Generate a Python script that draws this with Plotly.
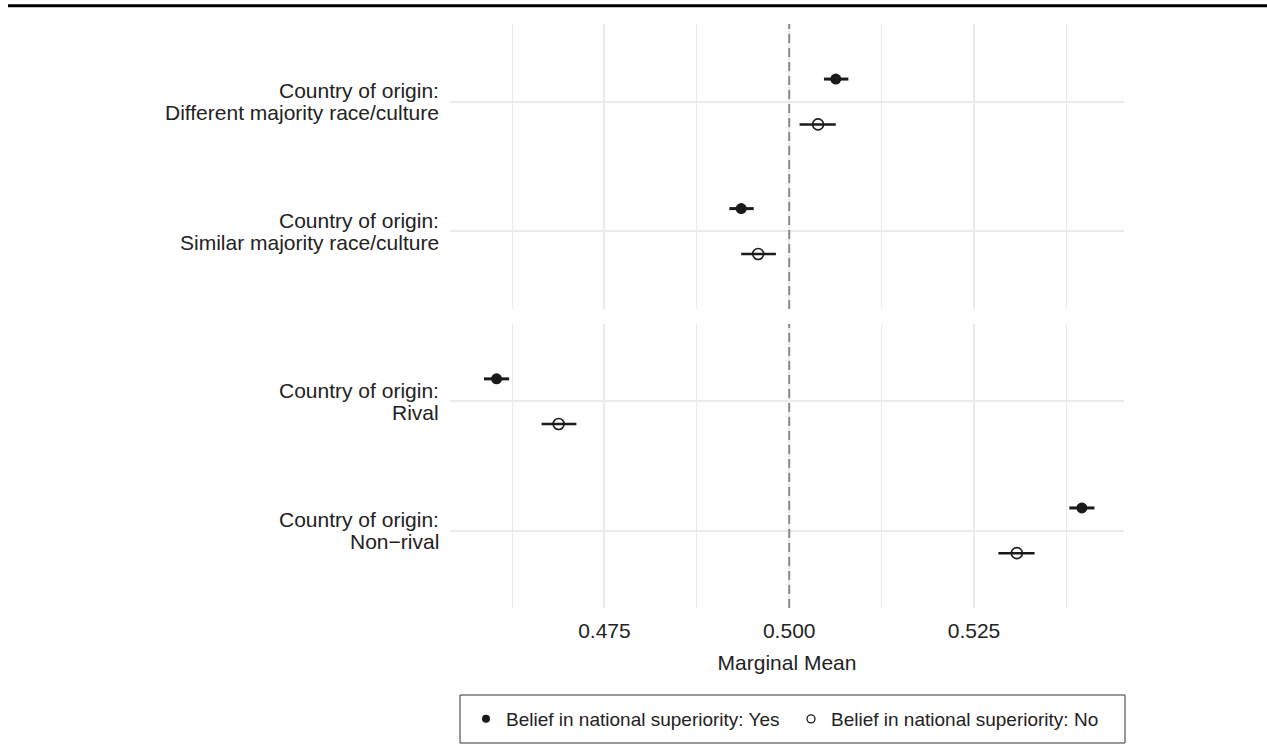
import plotly.graph_objects as go

# ---------------- data ----------------
label_prefix = "Country of origin:"
categories = ["Different majority race/culture", "Similar majority race/culture",
              "Rival", "Non\u2212rival"]
panel = [1, 1, 2, 2]          # facet panel of each category
slot = [0, 1, 0, 1]           # position of category inside its panel (top first)

yes_mean = [0.5063, 0.4935, 0.4604, 0.5396]
yes_lo = [0.5047, 0.4919, 0.4587, 0.5379]
yes_hi = [0.5080, 0.4952, 0.4621, 0.5413]

no_mean = [0.5039, 0.4958, 0.4688, 0.5308]
no_lo = [0.5014, 0.4935, 0.4665, 0.5283]
no_hi = [0.5063, 0.4982, 0.4712, 0.5332]

groups = ["Belief in national superiority: Yes", "Belief in national superiority: No"]
x_ticks = [0.475, 0.500, 0.525]
x_ticktext = ["0.475", "0.500", "0.525"]
x_minor = [0.4625, 0.4875, 0.5125, 0.5375]
reference_value = 0.5
x_title = "Marginal Mean"

# ---------------- styling ----------------
FONT = "Liberation Sans, Arial, Helvetica, sans-serif"
TXT = "#222222"
GRID = "#EBEBEB"
INK = "#1a1a1a"
dodge = 0.175
L, R, T, B = 450, 143, 24, 146
PW, PH = 1267 - L - R, 754 - T - B


def px_x(px):
    return (px - L) / PW


def px_y(py):
    return (754 - B - py) / PH


fig = go.Figure()

series = [
    (groups[0], yes_mean, yes_lo, yes_hi, -dodge,
     dict(symbol="circle", size=11, color=INK), 3),
    (groups[1], no_mean, no_lo, no_hi, dodge,
     dict(symbol="circle-open", size=11, color=INK, line=dict(width=1.6, color=INK)), 2.5),
]

for name, mean, lo, hi, off, marker, thick in series:
    for p in (1, 2):
        idx = [i for i in range(len(categories)) if panel[i] == p]
        fig.add_trace(go.Scatter(
            x=[mean[i] for i in idx],
            y=[slot[i] + off for i in idx],
            mode="markers",
            marker=marker,
            error_x=dict(type="data", symmetric=False,
                         array=[hi[i] - mean[i] for i in idx],
                         arrayminus=[mean[i] - lo[i] for i in idx],
                         width=0, thickness=thick, color=INK),
            xaxis="x" if p == 1 else "x2",
            yaxis="y" if p == 1 else "y2",
            showlegend=False,
            hoverinfo="x+y",
            name=name,
        ))

# legend entries (small markers like the reference key)
fig.add_trace(go.Scatter(x=[None], y=[None], mode="markers", name=groups[0],
                         xaxis="x2", yaxis="y2",
                         marker=dict(symbol="circle", size=8, color=INK)))
fig.add_trace(go.Scatter(x=[None], y=[None], mode="markers", name=groups[1],
                         xaxis="x2", yaxis="y2",
                         marker=dict(symbol="circle-open", size=8, color=INK,
                                     line=dict(width=1.3, color=INK))))

xr = [0.4541, 0.5453]
yr = [1.6, -0.6]

common_x = dict(range=xr, tickmode="array", tickvals=x_ticks, ticktext=x_ticktext,
                showgrid=True, gridcolor=GRID, gridwidth=2, zeroline=False,
                showline=False, ticks="",
                minor=dict(tickmode="array", tickvals=x_minor, showgrid=True,
                           gridcolor=GRID, gridwidth=1, ticks=""),
                tickfont=dict(family=FONT, size=21, color=TXT))
common_y = dict(range=yr, tickmode="array", tickvals=[0, 1], showticklabels=False,
                showgrid=True, gridcolor=GRID, gridwidth=2, zeroline=False,
                showline=False, ticks="")

fig.update_layout(
    width=1267, height=754,
    margin=dict(l=L, r=R, t=T, b=B),
    paper_bgcolor="white", plot_bgcolor="white",
    font=dict(family=FONT, size=21, color=TXT),
    xaxis=dict(common_x, anchor="y", showticklabels=False),
    xaxis2=dict(common_x, anchor="y2", matches="x", ticklabelstandoff=8,
                title=dict(text=x_title, standoff=14,
                           font=dict(family=FONT, size=21, color=TXT))),
    yaxis=dict(common_y, domain=[0.512, 1.0], anchor="x"),
    yaxis2=dict(common_y, domain=[0.0, 0.4863], anchor="x2"),
    showlegend=True,
    legend=dict(orientation="h", x=px_x(466), xanchor="left", y=px_y(700), yanchor="top",
                borderwidth=0, bgcolor="rgba(0,0,0,0)",
                font=dict(family=FONT, size=19, color=TXT),
                itemwidth=30, tracegroupgap=0, entrywidth=280),
)

# dashed reference line in each panel
for xref, yref in (("x", "y domain"), ("x2", "y2 domain")):
    fig.add_shape(type="line", xref=xref, yref=yref,
                  x0=reference_value, x1=reference_value, y0=0, y1=1,
                  line=dict(color="#8a8a8a", width=2, dash="9px,5px"), layer="above")

# legend frame
fig.add_shape(type="rect", xref="paper", yref="paper",
              x0=px_x(460), x1=px_x(1125), y0=px_y(743), y1=px_y(695),
              line=dict(color="#333333", width=1), fillcolor="rgba(0,0,0,0)", layer="above")

# thick rule across the top of the page
fig.add_shape(type="line", xref="paper", yref="paper",
              x0=px_x(8), x1=px_x(1267), y0=px_y(5.7), y1=px_y(5.7),
              line=dict(color="black", width=3), layer="above")

# two-line category labels (right aligned)
for i, cat in enumerate(categories):
    yref = "y" if panel[i] == 1 else "y2"
    for text, shift in ((label_prefix, 11), (cat, -11)):
        fig.add_annotation(text=text, xref="paper", x=0, xanchor="right", xshift=-9,
                           yref=yref, y=slot[i], yanchor="middle", yshift=shift,
                           showarrow=False, align="right",
                           font=dict(family=FONT, size=21, color=TXT))

fig.write_html("out.html", config={"displayModeBar": False},
               post_script="document.body.style.margin='0';")
